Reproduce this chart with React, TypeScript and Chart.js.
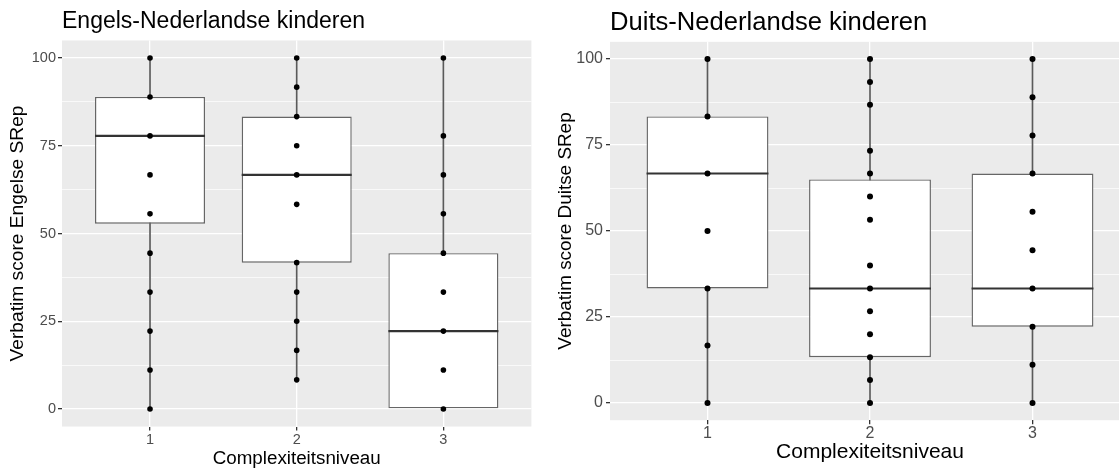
import React, { useEffect, useRef } from "react";
import { Chart, registerables } from "chart.js";

Chart.register(...registerables);

// ---------- data ----------
const CATEGORIES = [1, 2, 3];
const X_TICK_LABELS = ["1", "2", "3"];
const Y_MAJOR_TICKS = [0, 25, 50, 75, 100];
const Y_MINOR_TICKS = [12.5, 37.5, 62.5, 87.5];

// Engels-Nederlandse kinderen
const EN_POINTS_1 = [100, 88.9, 77.8, 66.7, 55.6, 44.4, 33.3, 22.2, 11.1, 0];
const EN_POINTS_2 = [100, 91.7, 83.3, 75, 66.7, 58.3, 41.7, 33.3, 25, 16.7, 8.3];
const EN_POINTS_3 = [100, 77.8, 66.7, 55.6, 44.4, 33.3, 22.2, 11.1, 0];
const EN_Q1 = [52.8, 41.7, 0];
const EN_MEDIAN = [77.8, 66.7, 22.2];
const EN_Q3 = [88.9, 83.3, 44.4];
const EN_WHISKER_LOW = [0, 8.3, 0];
const EN_WHISKER_HIGH = [100, 100, 100];

// Duits-Nederlandse kinderen
const DE_POINTS_1 = [100, 83.3, 66.7, 50, 33.3, 16.7, 0];
const DE_POINTS_2 = [100, 93.3, 86.7, 73.3, 66.7, 60, 53.3, 40, 33.3, 26.7, 20, 13.3, 6.7, 0];
const DE_POINTS_3 = [100, 88.9, 77.8, 66.7, 55.6, 44.4, 33.3, 22.2, 11.1, 0];
const DE_Q1 = [33.3, 13.3, 22.2];
const DE_MEDIAN = [66.7, 33.3, 33.3];
const DE_Q3 = [83.3, 65, 66.7];
const DE_WHISKER_LOW = [0, 0, 0];
const DE_WHISKER_HIGH = [100, 100, 100];

// ---------- styling ----------
const FONT = '"Liberation Sans", Arial, Helvetica, sans-serif';
const MEDIAN_HALF = 0.3;

type PanelSpec = {
  title: string;
  yTitle: string;
  xTitle: string;
  points: number[][];
  q1: number[];
  median: number[];
  q3: number[];
  wLow: number[];
  wHigh: number[];
  left: number;
  canvasWidth: number;
  rightPad: number;
  yAxisWidth: number;
  xAxisHeight: number;
  titleSize: number;
  titlePadTop: number;
  titlePadBottom: number;
  axisTitleSizeX: number;
  axisTitleSizeY: number;
  xTitlePadBottom: number;
  yTitlePadTop: number;
  tickSize: number;
  xTickPad: number;
  yTickPad: number;
  pointRadius: number;
};

const panelBg = {
  id: "panelBg",
  beforeDraw(chart: any) {
    const { ctx, chartArea: a } = chart;
    ctx.save();
    ctx.fillStyle = "#EBEBEB";
    ctx.fillRect(a.left, a.top, a.right - a.left, a.bottom - a.top);
    ctx.restore();
  },
};

function buildConfig(p: PanelSpec): any {
  const whiskerData = CATEGORIES.map((c, i) => ({ x: c, y: [p.wLow[i], p.wHigh[i]] }));
  const boxData = CATEGORIES.map((c, i) => ({ x: c, y: [p.q1[i], p.q3[i]] }));
  const medianData = CATEGORIES.map((c, i) => ({
    x: c,
    y: [p.median[i] - MEDIAN_HALF, p.median[i] + MEDIAN_HALF],
  }));
  const pointData = p.points.flatMap((arr, i) => arr.map((v) => ({ x: CATEGORIES[i], y: v })));
  const yTicks = [...Y_MAJOR_TICKS, ...Y_MINOR_TICKS].sort((a, b) => a - b);
  const isMajor = (v: number) => Y_MAJOR_TICKS.includes(v);

  return {
    type: "bar",
    data: {
      datasets: [
        {
          type: "bar",
          data: whiskerData,
          backgroundColor: "#5a5a5a",
          borderWidth: 0,
          barThickness: 1,
          grouped: false,
          order: 4,
        },
        {
          type: "bar",
          data: boxData,
          backgroundColor: "#ffffff",
          borderColor: "#666666",
          borderWidth: 1.4,
          borderSkipped: false,
          barPercentage: 0.75,
          categoryPercentage: 1,
          grouped: false,
          order: 3,
        },
        {
          type: "bar",
          data: medianData,
          backgroundColor: "#333333",
          borderWidth: 0,
          barPercentage: 0.75,
          categoryPercentage: 1,
          grouped: false,
          order: 2,
        },
        {
          type: "scatter",
          data: pointData,
          backgroundColor: "#000000",
          borderWidth: 0,
          pointRadius: p.pointRadius,
          pointHoverRadius: p.pointRadius,
          order: 1,
        },
      ],
    },
    options: {
      responsive: false,
      animation: false,
      devicePixelRatio: 1,
      layout: { padding: { left: 0, right: p.rightPad, top: 0, bottom: 0 } },
      plugins: {
        legend: { display: false },
        tooltip: { enabled: false },
        title: {
          display: true,
          text: p.title,
          align: "start",
          fullSize: false,
          color: "#000000",
          font: { family: FONT, size: p.titleSize, weight: "normal", lineHeight: 1.2 },
          padding: { top: p.titlePadTop, bottom: p.titlePadBottom },
        },
      },
      scales: {
        x: {
          type: "linear",
          min: 0.4,
          max: 3.6,
          offset: false,
          afterBuildTicks: (s: any) => {
            s.ticks = CATEGORIES.map((v) => ({ value: v }));
          },
          afterFit: (s: any) => {
            s.height = p.xAxisHeight;
          },
          ticks: {
            autoSkip: false,
            maxRotation: 0,
            color: "#4D4D4D",
            padding: p.xTickPad,
            font: { family: FONT, size: p.tickSize, lineHeight: 1.2 },
            callback: (v: number) => X_TICK_LABELS[CATEGORIES.indexOf(v)] ?? "",
          },
          grid: {
            offset: false,
            color: "#FFFFFF",
            lineWidth: 1.3,
            tickColor: "#333333",
            tickLength: 4,
            drawTicks: true,
          },
          border: { display: false },
          title: {
            display: true,
            text: p.xTitle,
            color: "#000000",
            font: { family: FONT, size: p.axisTitleSizeX, lineHeight: 1 },
            padding: { top: 0, bottom: p.xTitlePadBottom },
          },
        },
        y: {
          type: "linear",
          min: -5,
          max: 105,
          afterBuildTicks: (s: any) => {
            s.ticks = yTicks.map((v) => ({ value: v }));
          },
          afterFit: (s: any) => {
            s.width = p.yAxisWidth;
          },
          ticks: {
            autoSkip: false,
            color: "#4D4D4D",
            padding: p.yTickPad,
            font: { family: FONT, size: p.tickSize, lineHeight: 1.2 },
            callback: (v: number) => (isMajor(v) ? String(v) : ""),
          },
          grid: {
            color: "#FFFFFF",
            lineWidth: (ctx: any) => (ctx.tick && isMajor(ctx.tick.value) ? 1.3 : 0.7),
            tickColor: (ctx: any) =>
              ctx.tick && isMajor(ctx.tick.value) ? "#333333" : "rgba(0,0,0,0)",
            tickLength: 4,
            drawTicks: true,
          },
          border: { display: false },
          title: {
            display: true,
            text: p.yTitle,
            color: "#000000",
            font: { family: FONT, size: p.axisTitleSizeY, lineHeight: 1 },
            padding: { top: p.yTitlePadTop, bottom: 0 },
          },
        },
      },
    },
    plugins: [panelBg],
  };
}

const LEFT_PANEL: PanelSpec = {
  title: "Engels-Nederlandse kinderen",
  yTitle: "Verbatim score Engelse SRep",
  xTitle: "Complexiteitsniveau",
  points: [EN_POINTS_1, EN_POINTS_2, EN_POINTS_3],
  q1: EN_Q1,
  median: EN_MEDIAN,
  q3: EN_Q3,
  wLow: EN_WHISKER_LOW,
  wHigh: EN_WHISKER_HIGH,
  left: 0,
  canvasWidth: 560,
  rightPad: 28.6,
  yAxisWidth: 62,
  xAxisHeight: 41.45,
  titleSize: 23,
  titlePadTop: 8,
  titlePadBottom: 4.85,
  axisTitleSizeX: 18.8,
  axisTitleSizeY: 19.2,
  xTitlePadBottom: 0,
  yTitlePadTop: 8.5,
  tickSize: 14.5,
  xTickPad: 0.5,
  yTickPad: 2,
  pointRadius: 2.8,
};

const RIGHT_PANEL: PanelSpec = {
  title: "Duits-Nederlandse kinderen",
  yTitle: "Verbatim score Duitse SRep",
  xTitle: "Complexiteitsniveau",
  points: [DE_POINTS_1, DE_POINTS_2, DE_POINTS_3],
  q1: DE_Q1,
  median: DE_MEDIAN,
  q3: DE_Q3,
  wLow: DE_WHISKER_LOW,
  wHigh: DE_WHISKER_HIGH,
  left: 548,
  canvasWidth: 592,
  rightPad: 10,
  yAxisWidth: 62,
  xAxisHeight: 47.8,
  titleSize: 25.6,
  titlePadTop: 8,
  titlePadBottom: 3.1,
  axisTitleSizeX: 21,
  axisTitleSizeY: 18.9,
  xTitlePadBottom: 5.5,
  yTitlePadTop: 8.5,
  tickSize: 16,
  xTickPad: 0,
  yTickPad: 3,
  pointRadius: 3,
};

function Panel({ spec }: { spec: PanelSpec }) {
  const ref = useRef<HTMLCanvasElement | null>(null);
  useEffect(() => {
    if (!ref.current) return;
    const chart = new Chart(ref.current, buildConfig(spec));
    return () => chart.destroy();
  }, [spec]);
  return (
    <canvas
      ref={ref}
      width={spec.canvasWidth}
      height={468}
      style={{
        position: "absolute",
        left: spec.left,
        top: 0,
        width: spec.canvasWidth,
        height: 468,
      }}
    />
  );
}

export default function App() {
  return (
    <div
      style={{
        position: "absolute",
        left: 0,
        top: 0,
        width: 1119,
        height: 468,
        overflow: "hidden",
        background: "#ffffff",
      }}
    >
      <Panel spec={LEFT_PANEL} />
      <Panel spec={RIGHT_PANEL} />
    </div>
  );
}
